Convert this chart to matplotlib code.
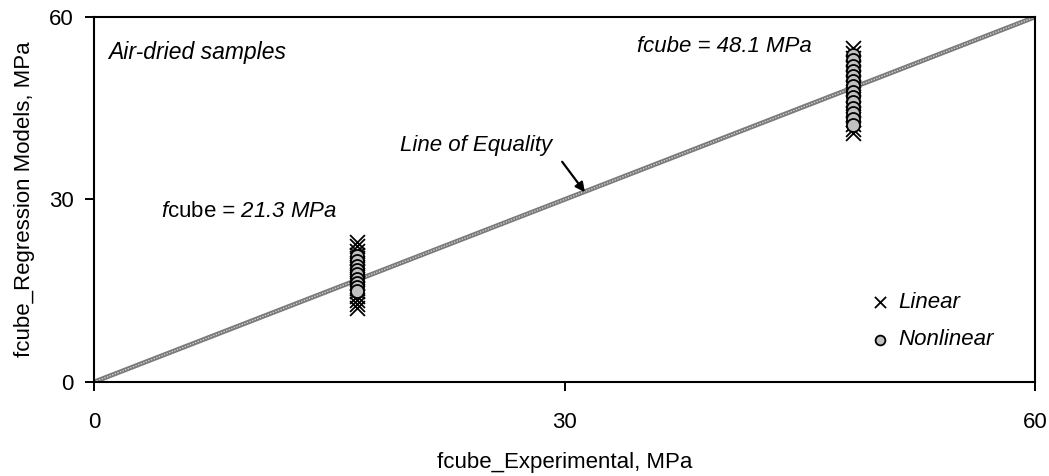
import matplotlib
matplotlib.use('Agg')
import matplotlib.pyplot as plt

plt.rcParams['font.family'] = ['Liberation Sans', 'DejaVu Sans']
plt.rcParams['mathtext.fontset'] = 'custom'
plt.rcParams['mathtext.rm'] = 'Liberation Sans'
plt.rcParams['mathtext.it'] = 'Liberation Sans:italic'

# experimental strengths of the two groups (as plotted)
x_low = 16.8
x_high = 48.4

# linear regression predictions
linear_low = [23.0, 22.3, 21.6, 20.9, 20.3, 19.6, 18.9, 18.2, 17.6, 16.9,
              16.2, 15.5, 14.9, 14.2, 13.5, 12.8, 12.2]
linear_high = [54.9, 54.1, 53.3, 52.5, 51.6, 50.8, 50.0, 49.1, 48.3, 47.4,
               46.6, 45.8, 44.9, 44.1, 43.2, 42.4, 41.6, 40.9]

# nonlinear regression predictions
nonlin_low = [20.7, 19.9, 19.1, 18.4, 17.7, 17.0, 16.3, 15.6, 15.0]
nonlin_high = [53.8, 52.9, 52.0, 51.2, 50.3, 49.4, 48.6, 47.7, 46.9, 46.0,
               45.1, 44.3, 43.3, 42.2]

equality = [0, 60]
ticks = [0, 30, 60]

fig = plt.figure(figsize=(10.49, 4.76), dpi=100)
ax = fig.add_axes([0.0896, 0.1975, 0.8971, 0.7668])

# line of equality
ax.plot(equality, equality, color='#7a7a7a', lw=3.4, zorder=1)
ax.plot(equality, equality, color='#cfcfcf', lw=1.0, ls=(0, (1, 1)), zorder=1)

ax.scatter([x_low] * len(linear_low) + [x_high] * len(linear_high),
           linear_low + linear_high, marker='x', s=115, c='black',
           linewidths=1.3, label='Linear', zorder=2)
ax.scatter([x_low] * len(nonlin_low) + [x_high] * len(nonlin_high),
           nonlin_low + nonlin_high, marker='o', s=88, c='#c0c0c0',
           edgecolors='black', linewidths=1.3, label='Nonlinear', zorder=3)

ax.set_xlim(0, 60)
ax.set_ylim(0, 60)
ax.set_xticks(ticks)
ax.set_yticks(ticks)
ax.tick_params(direction='out', length=6.5, width=1.4, labelsize=16)
ax.tick_params(axis='x', pad=15)
ax.tick_params(axis='y', pad=8)
for s in ax.spines.values():
    s.set_linewidth(1.5)

ax.set_xlabel('fcube_Experimental, MPa', fontsize=16, labelpad=14)
ax.set_ylabel('fcube_Regression Models, MPa', fontsize=16, labelpad=10)

ax.text(0.9, 54.2, 'Air-dried samples', fontsize=16.5, style='italic',
        ha='left', va='center')
ax.text(34.6, 55.1, 'fcube = 48.1 MPa', fontsize=16, style='italic',
        ha='left', va='center')
ax.text(4.3, 28.1, r'$\mathit{f}\mathrm{cube}$ = 21.3 MPa', fontsize=16,
        style='italic', ha='left', va='center')
ax.annotate('Line of Equality', xy=(31.3, 31.2), xytext=(29.2, 38.8),
            fontsize=16, style='italic', ha='right', va='center')
ax.annotate('', xy=(31.3, 31.2), xytext=(29.85, 36.2),
            arrowprops=dict(arrowstyle='-|>', color='black', lw=1.6,
                            mutation_scale=14, shrinkA=0, shrinkB=0))

leg = ax.legend(loc='center left', bbox_to_anchor=(0.8236, 0.167),
                frameon=False, fontsize=16, handlelength=1.0,
                handletextpad=0.3, labelspacing=0.75, borderpad=0,
                borderaxespad=0, markerscale=0.75)
for t in leg.get_texts():
    t.set_style('italic')

fig.savefig('out.png', dpi=100)
